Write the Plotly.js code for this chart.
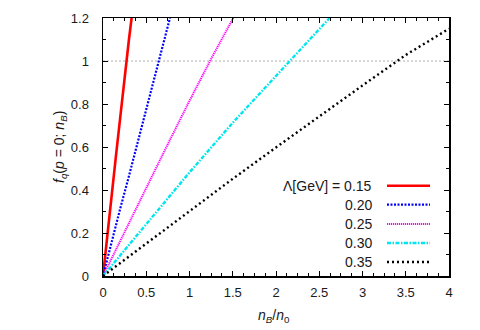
<!DOCTYPE html>
<html>
<head>
<meta charset="utf-8">
<script src="https://cdn.plot.ly/plotly-3.0.1.min.js"></script>
<style>html,body{margin:0;padding:0;background:#fff;}#chart{width:480px;height:330px;}</style>
</head>
<body>
<div id="chart"></div>
<script>
// Data
var lambdaLabels = ["0.15", "0.20", "0.25", "0.30", "0.35"];
var x015 = [0, 0.05, 0.1, 0.15, 0.2, 0.25, 0.3, 0.34];
var y015 = [0, 0.195, 0.38, 0.56, 0.74, 0.93, 1.1, 1.23];
var x020 = [0, 0.1, 0.2, 0.3, 0.4, 0.5, 0.6, 0.7, 0.8];
var y020 = [0, 0.16, 0.315, 0.465, 0.62, 0.775, 0.93, 1.085, 1.24];
var x025 = [0, 0.25, 0.5, 0.75, 1.0, 1.25, 1.5, 1.6];
var y025 = [0, 0.207, 0.412, 0.614, 0.815, 1.01, 1.196, 1.27];
var x030 = [0, 0.5, 1.0, 1.5, 2.0, 2.5, 2.7];
var y030 = [0, 0.243, 0.482, 0.713, 0.932, 1.15, 1.235];
var x035 = [0, 0.5, 1.0, 1.5, 2.0, 2.5, 3.0, 3.5, 4.0];
var y035 = [0, 0.152, 0.302, 0.452, 0.598, 0.743, 0.886, 1.028, 1.15];
var xTickVals = [0, 0.5, 1, 1.5, 2, 2.5, 3, 3.5, 4];
var xTickText = ["0", "0.5", "1", "1.5", "2", "2.5", "3", "3.5", "4"];
var yTickVals = [0, 0.2, 0.4, 0.6, 0.8, 1, 1.2];
var yTickText = ["0", "0.2", "0.4", "0.6", "0.8", "1", "1.2"];
var xTitle = "<i>n</i><sub><i>B</i></sub>/<i>n</i><sub>0</sub>";
var yTitle = "<i>f</i><sub><i>q</i></sub>(<i>p</i> = 0; <i>n</i><sub><i>B</i></sub>)";
var legendPrefix = "Λ[GeV] = ";
var refLine = 1;

var styles = [
  {color: "#ff0000", width: 2.6, dash: "solid"},
  {color: "#0000ff", width: 2.2, dash: "2px,1.5px"},
  {color: "#ff00ff", width: 2.0, dash: "1.2px,0.8px"},
  {color: "#00e5ee", width: 2.4, dash: "4px,1.5px,1.5px,1.5px"},
  {color: "#000000", width: 2.4, dash: "2px,3px"}
];
var xs = [x015, x020, x025, x030, x035];
var ys = [y015, y020, y025, y030, y035];

var traces = xs.map(function (xv, i) {
  return {x: xv, y: ys[i], type: "scatter", mode: "lines", name: lambdaLabels[i],
          line: styles[i], showlegend: false, hoverinfo: "skip"};
});

var fam = "Liberation Sans";
function mk(sz) { return {family: fam, size: sz, color: "#1a1a1a"}; }

var plotL = 103, plotT = 18, plotW = 346, plotH = 258;
function px(x) { return (x - plotL) / plotW; }
function py(y) { return 1 - (y - plotT) / plotH; }

var shapes = [{type: "line", xref: "paper", yref: "y", x0: 0, x1: 1, y0: refLine, y1: refLine,
               line: {color: "#b0b0b0", width: 1, dash: "2px,2px"}, layer: "below"}];
var annotations = [
  {xref: "paper", yref: "paper", x: px(274), y: py(316), xanchor: "center", yanchor: "middle",
   text: xTitle, showarrow: false, font: mk(14)},
  {xref: "paper", yref: "paper", x: px(60), y: py(147), xanchor: "center", yanchor: "middle",
   text: yTitle, textangle: -90, showarrow: false, font: mk(14)}
];
var rowY = [185.7, 204.7, 224, 243, 262];
lambdaLabels.forEach(function (lab, i) {
  var yy = py(rowY[i]);
  annotations.push({xref: "paper", yref: "paper", x: px(374), y: yy,
                    xanchor: "right", yanchor: "middle", text: (i === 0 ? legendPrefix : "") + lab,
                    showarrow: false, font: mk(14)});
  shapes.push({type: "line", xref: "paper", yref: "paper",
               x0: px(387), x1: px(430), y0: yy, y1: yy, line: styles[i]});
});

function axisBase() {
  return {
    showline: true, linecolor: "#000", linewidth: 1.5, mirror: "allticks",
    ticks: "inside", ticklen: 5, tickwidth: 1, tickcolor: "#000",
    showgrid: false, zeroline: false, tickfont: mk(13), tickmode: "array"
  };
}

var layout = {
  width: 480, height: 330,
  margin: {l: plotL, r: 480 - plotL - plotW, t: plotT, b: 330 - plotT - plotH},
  paper_bgcolor: "#fff", plot_bgcolor: "#fff",
  font: mk(14),
  xaxis: Object.assign(axisBase(), {
    range: [0, 4], tickvals: xTickVals, ticktext: xTickText, ticklabelstandoff: 4,
    minor: {dtick: 0.125, ticks: "inside", ticklen: 3, tickcolor: "#000", showgrid: false}
  }),
  yaxis: Object.assign(axisBase(), {
    range: [0, 1.2], tickvals: yTickVals, ticktext: yTickText, ticklabelstandoff: 10,
    minor: {dtick: 0.1, ticks: "inside", ticklen: 3, tickcolor: "#000", showgrid: false}
  }),
  shapes: shapes,
  annotations: annotations,
  showlegend: false
};

Plotly.newPlot("chart", traces, layout, {staticPlot: true, displayModeBar: false});
</script>
</body>
</html>
